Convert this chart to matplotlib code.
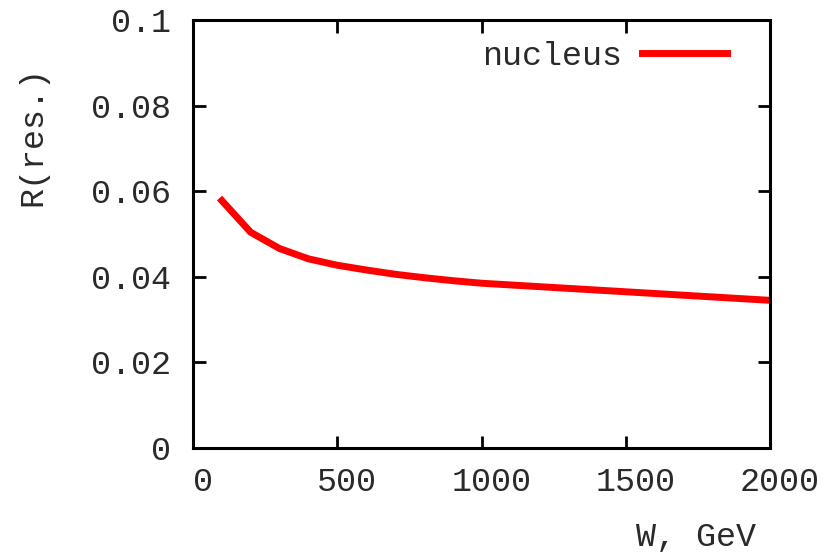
import matplotlib
matplotlib.use("Agg")
import matplotlib.pyplot as plt
from matplotlib.transforms import ScaledTranslation

W = [100, 200, 300, 400, 500, 600, 700, 800, 900, 1000,
     1100, 1200, 1300, 1400, 1500, 1600, 1700, 1800, 1900, 2000]
R = [0.0578, 0.0504, 0.0466, 0.0442, 0.0427, 0.0416, 0.0406, 0.0398, 0.0391, 0.0385,
     0.0381, 0.0377, 0.0373, 0.0369, 0.0365, 0.0361, 0.0357, 0.0353, 0.0349, 0.0345]
xticks = [0, 500, 1000, 1500, 2000]
yticks = [0, 0.02, 0.04, 0.06, 0.08, 0.1]
ytick_labels = ["0", "0.02", "0.04", "0.06", "0.08", "0.1"]

plt.rcParams['font.family'] = ['Liberation Mono', 'DejaVu Sans Mono']
fs = 24
tc = '#2a2a2a'

fig = plt.figure(figsize=(8.31, 5.52), dpi=100)
ax = fig.add_axes([193/831, 1-448/552, 577/831, 428/552])
ax.plot(W, R, color='#ff0000', lw=5, label='nucleus', solid_joinstyle='miter')
ax.set_xlim(0, 2000)
ax.set_ylim(0, 0.1)
ax.set_xticks(xticks)
ax.set_xticklabels([str(t) for t in xticks])
ax.set_yticks(yticks)
ax.set_yticklabels(ytick_labels)
ax.tick_params(direction='in', length=9, width=2, top=True, right=True,
               labelsize=fs, colors='black', labelcolor=tc)
ax.tick_params(axis='y', pad=16)
ax.tick_params(axis='x', pad=14)
for s in ax.spines.values():
    s.set_linewidth(2.2)

# gnuplot-like offset of x tick labels (shifted right)
off = ScaledTranslation(10/100, 0, fig.dpi_scale_trans)
for lab in ax.get_xticklabels():
    lab.set_transform(lab.get_transform() + off)

leg = ax.legend(loc='upper right', bbox_to_anchor=(0.977, 1.022), frameon=False,
                markerfirst=False, fontsize=fs, handlelength=2.55, handletextpad=0.6)
for t in leg.get_texts():
    t.set_color(tc)

fig.text(756/831, 1-538/552, "W, GeV", ha='right', va='center', fontsize=fs, color=tc)
fig.text(33/831, 1-136/552, "R(res.)", ha='center', va='center', rotation=90, fontsize=fs, color=tc)

fig.savefig("out.png", dpi=100)
